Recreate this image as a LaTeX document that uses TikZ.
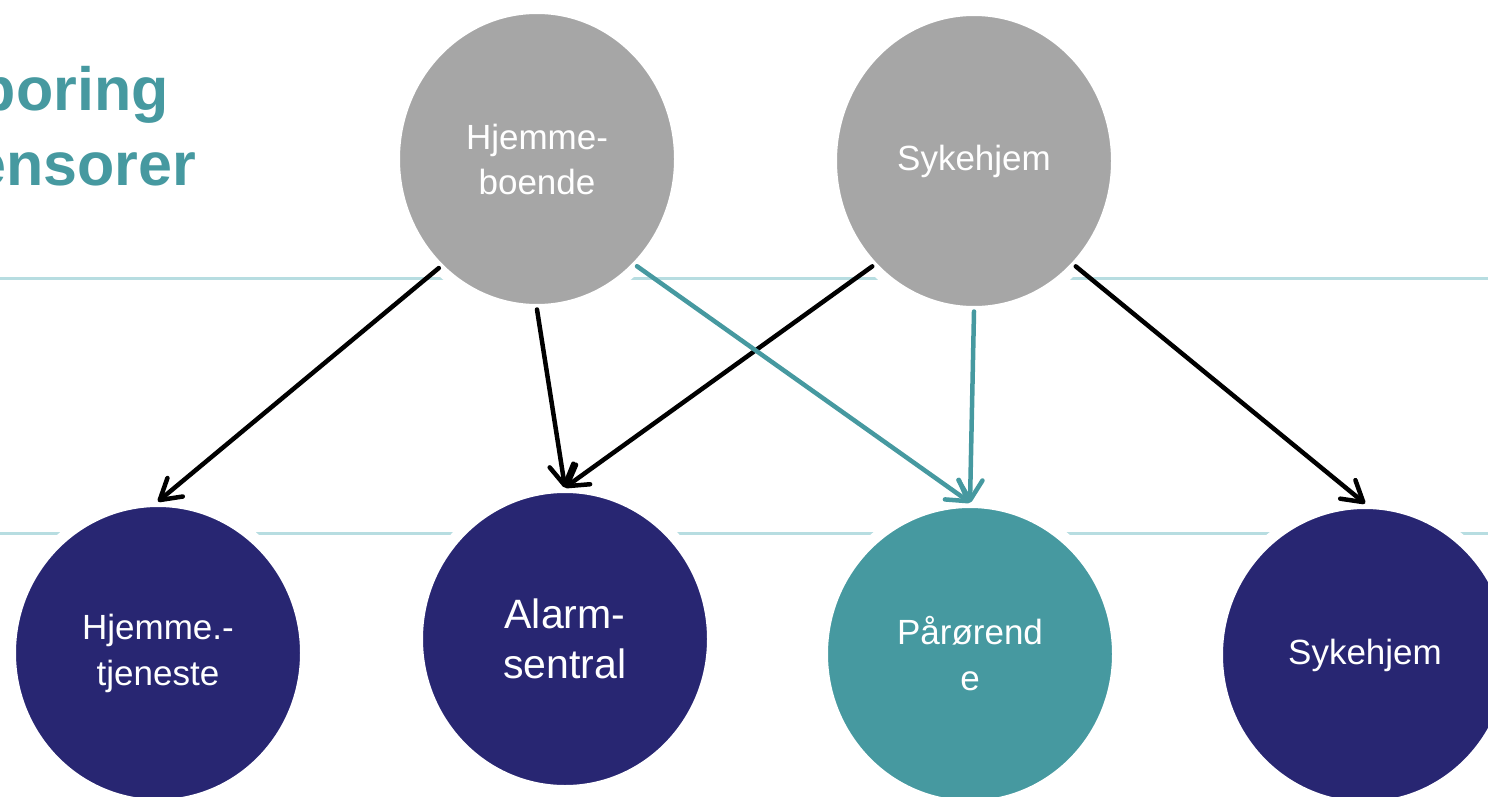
\documentclass[tikz,border=0pt]{standalone}
\usepackage{fontspec}
\setmainfont{Liberation Sans}
\usetikzlibrary{shapes.geometric,arrows.meta}
\definecolor{gry}{HTML}{A6A6A6}
\definecolor{navy}{HTML}{282672}
\definecolor{teal1}{HTML}{4699A0}
\definecolor{rulec}{HTML}{B7DDE1}
\begin{document}
\begin{tikzpicture}[x=1pt,y=-1pt,
  topnode/.style={ellipse, fill=gry, draw=white, line width=11pt, minimum width=285pt, minimum height=301pt, inner sep=0pt, outer sep=0pt, text=white, font=\fontsize{35}{45}\selectfont, align=center},
  botnode/.style={ellipse, fill=navy, draw=white, line width=11pt, minimum width=295pt, minimum height=303pt, inner sep=0pt, outer sep=0pt, text=white, font=\fontsize{35}{46}\selectfont, align=center},
  conn/.style={line width=4.5pt, line cap=round, -{Straight Barb[length=20pt,width=24pt,round]}},
  rulel/.style={draw=rulec, line width=3pt}
  ]
\useasboundingbox (0,0) rectangle (1488,797);
\clip (0,0) rectangle (1488,797);
% title
\node[anchor=base west, align=left, text=teal1, inner sep=0pt, font=\fontsize{61}{75}\selectfont\bfseries] (title) at (-62,185) {Sporing\\sensorer};
% rules
\coordinate (r1a) at (0,278); \coordinate (r1b) at (1488,278);
\coordinate (r2a) at (0,533); \coordinate (r2b) at (1488,533);
\draw[rulel] (r1a) -- (r1b);
\draw[rulel] (r2a) -- (r2b);
% top nodes
\node[topnode] (hb) at (537,159) {Hjemme-\\boende};
\node[topnode] (sk) at (974,161) {Sykehjem};
% bottom nodes
\node[botnode] (ht) at (158,653) {Hjemme.-\\tjeneste};
\node[botnode, font=\fontsize{41}{50}\selectfont] (al) at (565,639) {Alarm-\\sentral};
\node[botnode, fill=teal1] (pa) at (970,654) {Pårørend\\e};
\node[botnode] (sb) at (1365,655) {Sykehjem};
% connectors
\draw[conn] (hb.228) -- (ht.90);
\draw[conn] (hb.270) -- (al.90);
\draw[conn] (sk.226) -- (al.90);
\draw[conn, teal1] (hb.313) -- (pa.90);
\draw[conn, teal1] (sk.270) -- (pa.90);
\draw[conn] (sk.314) -- (sb.90);
\end{tikzpicture}
\end{document}
